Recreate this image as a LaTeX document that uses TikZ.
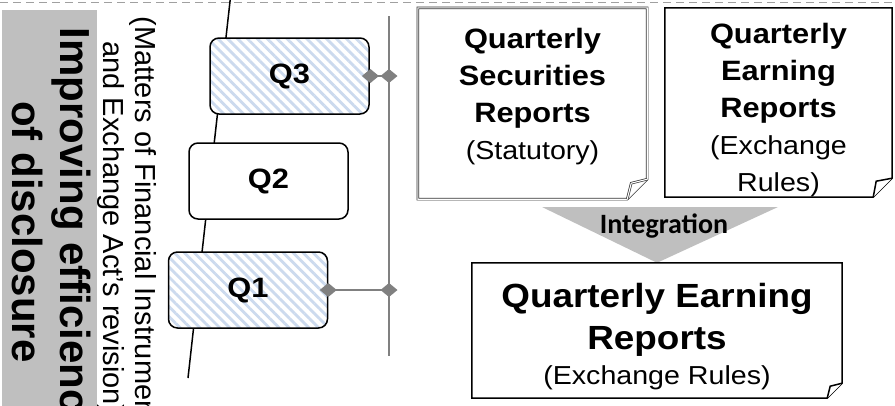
\documentclass[tikz,border=0pt]{standalone}
\usepackage{fontspec}
\setmainfont{Liberation Sans}[FakeStretch=1.1]
\newfontfamily\sidefont{Liberation Sans}
\newfontfamily\calfont{Carlito}
\usetikzlibrary{arrows.meta,patterns.meta,calc}
\definecolor{panelgray}{RGB}{191,191,191}
\definecolor{linegray}{RGB}{128,128,128}
\definecolor{dashgray}{RGB}{160,160,160}
\definecolor{stripeblue}{RGB}{204,218,238}

\begin{document}
\begin{tikzpicture}[x=1pt,y=-1pt,
  qbox/.style={draw,line width=1.5pt,rounded corners=9pt,fill=white,
    minimum width=159pt,minimum height=76pt,inner sep=0pt,
    font=\bfseries\fontsize{28}{32}\selectfont},
  hatched/.style={preaction={fill=white},
    pattern={Lines[angle=-45,distance=7pt,line width=2.8pt]},pattern color=stripeblue},
  link/.style={draw=linegray,line width=2pt,
    {Diamond[length=17pt,width=14pt]}-{Diamond[length=17pt,width=14pt]},
    shorten <=-8.5pt,shorten >=-8.5pt},
  report/.style={inner sep=0pt},
  single/.style={draw,line width=1.5pt,fill=white},
  dbl/.style={draw=black!80,double=white,double distance=1.1pt,line width=0.7pt,fill=white},
  bodytxt/.style={inner sep=0pt,align=center,anchor=north},
  sidetitle/.style={rotate=-90,inner sep=0pt,align=center,anchor=north,
    font=\sidefont\bfseries\fontsize{42}{48}\selectfont},
  sidenote/.style={rotate=-90,inner sep=0pt,align=center,anchor=north,
    font=\sidefont\fontsize{29}{32}\selectfont}]

  \path[use as bounding box] (0,0) rectangle (895,405);
  \clip (0,0) rectangle (895,405);

  % left panel
  \node[fill=panelgray,minimum width=95pt,minimum height=400pt,anchor=north west,inner sep=0pt] (panel) at (2,10) {};
  \node[sidetitle] (title) at (91,232) {Improving efficiency\\of disclosure};
  \node[sidenote] (note) at (157,228) {(Matters of Financial Instruments\\and Exchange Act’s revision)};

  % dashed rule on top
  \coordinate (dl) at (0,2.5);
  \coordinate (dr) at (895,2.5);
  \draw[dashgray,line width=1.5pt,dash pattern=on 8pt off 5pt] (dl) -- (dr);

  % time axis and bar
  \coordinate (axtop) at (230.5,-3);
  \coordinate (axbot) at (188,378);
  \draw[line width=1.5pt] (axtop) -- (axbot);
  \coordinate (bartop) at (389,16);
  \coordinate (barbot) at (389,356);
  \draw[linegray,line width=2pt] (bartop) -- (barbot);

  % quarters
  \node[qbox,hatched] (q3) at (289.5,76) {Q3};
  \node[qbox] (q2) at (268.5,181) {Q2};
  \node[qbox,hatched] (q1) at (248,290) {Q1};

  \path (q3.east) edge[link] (q3.east -| bartop)
        (q1.east) edge[link] (q1.east -| bartop);

  % statutory report
  \node[report,minimum width=229pt,minimum height=191pt] (sec) at (532.5,103.5) {};
  \draw[dbl] (sec.north west) -- (sec.north east) -- ($(sec.south east)+(0,-20)$)
    -- ($(sec.south east)+(-20,0)$) -- (sec.south west) -- cycle;
  \draw[dbl] ($(sec.south east)+(-20,0)$) -- ($(sec.south east)+(-16,-16)$) -- ($(sec.south east)+(0,-20)$);
  \node[bodytxt,font=\bfseries\fontsize{28}{37}\selectfont] (sectxt) at ([yshift=-20pt]sec.north)
    {Quarterly\\Securities\\Reports\\\mdseries\fontsize{26}{37}\selectfont(Statutory)};

  % exchange report
  \node[report,minimum width=227pt,minimum height=189pt] (earn) at (778.5,102.5) {};
  \draw[single] (earn.north west) -- (earn.north east) -- ($(earn.south east)+(0,-19)$)
    -- ($(earn.south east)+(-19,0)$) -- (earn.south west) -- cycle;
  \draw[single] ($(earn.south east)+(-19,0)$) -- ($(earn.south east)+(-16,-16)$) -- ($(earn.south east)+(0,-19)$);
  \node[bodytxt,font=\bfseries\fontsize{28}{37}\selectfont] (earntxt) at ([yshift=-15pt]earn.north)
    {Quarterly\\Earning\\Reports\\\mdseries\fontsize{26}{37}\selectfont(Exchange\\\mdseries\fontsize{26}{37}\selectfont Rules)};

  % integrated report
  \node[report,minimum width=370pt,minimum height=135pt] (qer) at (657,330.5) {};
  \coordinate (intl) at (542,207);
  \coordinate (intr) at (778,207);
  \fill[panelgray] (intl) -- (intr) -- (qer.north) -- cycle;
  \node[font=\calfont\bfseries\fontsize{28}{32}\selectfont,inner sep=0pt] (integ) at (664,226) {Integration};
  \draw[single] (qer.north west) -- (qer.north east) -- ($(qer.south east)+(0,-15)$)
    -- ($(qer.south east)+(-15,0)$) -- (qer.south west) -- cycle;
  \draw[single] ($(qer.south east)+(-15,0)$) -- ($(qer.south east)+(-12,-12)$) -- ($(qer.south east)+(0,-15)$);
  \node[bodytxt,font=\bfseries\fontsize{33.5}{42}\selectfont] (qertxt) at ([yshift=-20pt]qer.north)
    {Quarterly Earning\\Reports\\[-7pt]\mdseries\fontsize{26}{42}\selectfont(Exchange Rules)};
\end{tikzpicture}
\end{document}
